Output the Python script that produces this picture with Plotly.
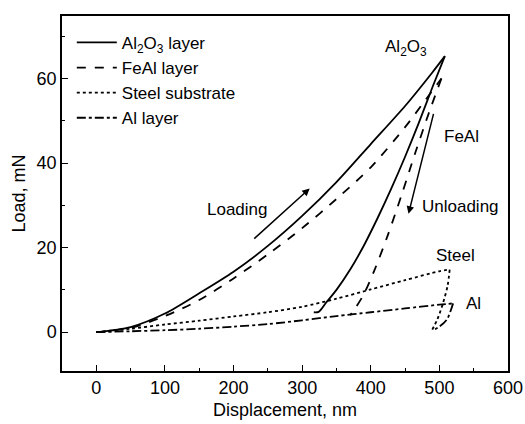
import plotly.graph_objects as go

# Al2O3 layer: loading and unloading branches
al2o3_load_x = [0, 50, 100, 150, 200, 250, 300, 350, 400, 450, 490, 508]
al2o3_load_y = [0, 1.2, 4.4, 9.2, 14.3, 20.4, 27.5, 35.5, 44.5, 53.5, 61.5, 65.3]
al2o3_unl_x = [508, 490, 470, 450, 430, 410, 390, 370, 350, 335, 324, 317]
al2o3_unl_y = [65.3, 58, 49.5, 41.5, 34, 27, 20.5, 14.8, 10, 7, 4.8, 4.7]

# FeAl layer
feal_load_x = [0, 50, 100, 150, 200, 250, 300, 350, 400, 450, 480, 503]
feal_load_y = [0, 1.0, 3.8, 7.6, 12.7, 18.4, 24.6, 31.5, 39.0, 48.5, 55, 60]
feal_unl_x = [503, 485, 465, 445, 425, 405, 390, 378, 370]
feal_unl_y = [60, 52, 42.5, 32.5, 23, 14.5, 9, 5.8, 4]

# Steel substrate
steel_load_x = [0, 50, 100, 150, 200, 250, 300, 350, 400, 450, 500, 515]
steel_load_y = [0, 0.8, 1.8, 2.7, 3.7, 4.7, 6.0, 7.9, 10.1, 12.3, 14.4, 14.8]
steel_unl_x = [515, 512, 505, 497, 489]
steel_unl_y = [14.8, 11, 6.7, 3, 0.4]

# Al layer
al_load_x = [0, 50, 100, 150, 200, 250, 300, 350, 400, 450, 500, 520]
al_load_y = [0, 0.2, 0.45, 0.8, 1.3, 1.9, 2.8, 3.8, 4.7, 5.6, 6.5, 6.8]
al_unl_x = [520, 511, 500, 490]
al_unl_y = [6.8, 3, 1.3, 0.4]

x_ticks = [0, 100, 200, 300, 400, 500, 600]
y_ticks = [0, 20, 40, 60]

FONT = "Liberation Sans, Arial, sans-serif"

fig = go.Figure()
series = [
    ("Al<sub>2</sub>O<sub>3</sub> layer", "solid", al2o3_load_x, al2o3_load_y, al2o3_unl_x, al2o3_unl_y),
    ("FeAl layer", "dash", feal_load_x, feal_load_y, feal_unl_x, feal_unl_y),
    ("Steel substrate", "dot", steel_load_x, steel_load_y, steel_unl_x, steel_unl_y),
    ("Al layer", "dashdot", al_load_x, al_load_y, al_unl_x, al_unl_y),
]
for i, (name, dash, lx, ly, ux, uy) in enumerate(series):
    line = dict(color="black", width=1.8, dash=dash, shape="spline", smoothing=0.8)
    fig.add_trace(go.Scatter(x=lx, y=ly, mode="lines", name=name, legendgroup=str(i),
                             line=line))
    fig.add_trace(go.Scatter(x=ux, y=uy, mode="lines", name=name, legendgroup=str(i),
                             showlegend=False, line=line))

ann_font = dict(family=FONT, size=17, color="black")
fig.add_annotation(x=451, y=67.3, text="Al<sub>2</sub>O<sub>3</sub>", showarrow=False, font=ann_font)
fig.add_annotation(x=532, y=46.3, text="FeAl", showarrow=False, font=ann_font)
fig.add_annotation(x=531, y=29.7, text="Unloading", showarrow=False, font=ann_font)
fig.add_annotation(x=524, y=18.2, text="Steel", showarrow=False, font=ann_font)
fig.add_annotation(x=550, y=6.8, text="Al", showarrow=False, font=ann_font)
fig.add_annotation(x=206, y=29.1, text="Loading", showarrow=False, font=ann_font)
# arrows
fig.add_annotation(x=311, y=34, ax=228, ay=21.8, xref="x", yref="y", axref="x", ayref="y",
                   text="", showarrow=True, arrowhead=2, arrowsize=1, arrowwidth=1.5,
                   arrowcolor="black")
fig.add_annotation(x=455, y=28, ax=492, ay=52, xref="x", yref="y", axref="x", ayref="y",
                   text="", showarrow=True, arrowhead=2, arrowsize=1, arrowwidth=1.5,
                   arrowcolor="black")

axis_common = dict(showline=True, linecolor="black", linewidth=1.5, mirror=True,
                   ticks="inside", ticklen=6, tickwidth=1.3, tickcolor="black",
                   showgrid=False, zeroline=False, automargin=False,
                   tickfont=dict(family=FONT, size=18, color="black"))

fig.update_xaxes(range=[-50, 600], tickvals=x_ticks,
                 minor=dict(dtick=50, ticks="inside", ticklen=3, tickcolor="black", tickwidth=1.2),
                 title=dict(text="Displacement, nm", font=dict(family=FONT, size=18, color="black"),
                            standoff=6),
                 **axis_common)
fig.update_yaxes(range=[-9.2, 74.8], tickvals=y_ticks,
                 minor=dict(dtick=10, ticks="inside", ticklen=3, tickcolor="black", tickwidth=1.2),
                 title=dict(text="Load, mN", font=dict(family=FONT, size=18, color="black"),
                            standoff=6),
                 **axis_common)

fig.update_layout(
    width=525, height=424,
    margin=dict(l=62, r=17, t=16, b=53),
    plot_bgcolor="white", paper_bgcolor="white",
    showlegend=True,
    legend=dict(x=0.022, y=0.975, xanchor="left", yanchor="top",
                bgcolor="rgba(0,0,0,0)", font=dict(family=FONT, size=17, color="black"),
                tracegroupgap=0, itemwidth=40),
)

fig.write_html("out.html")
